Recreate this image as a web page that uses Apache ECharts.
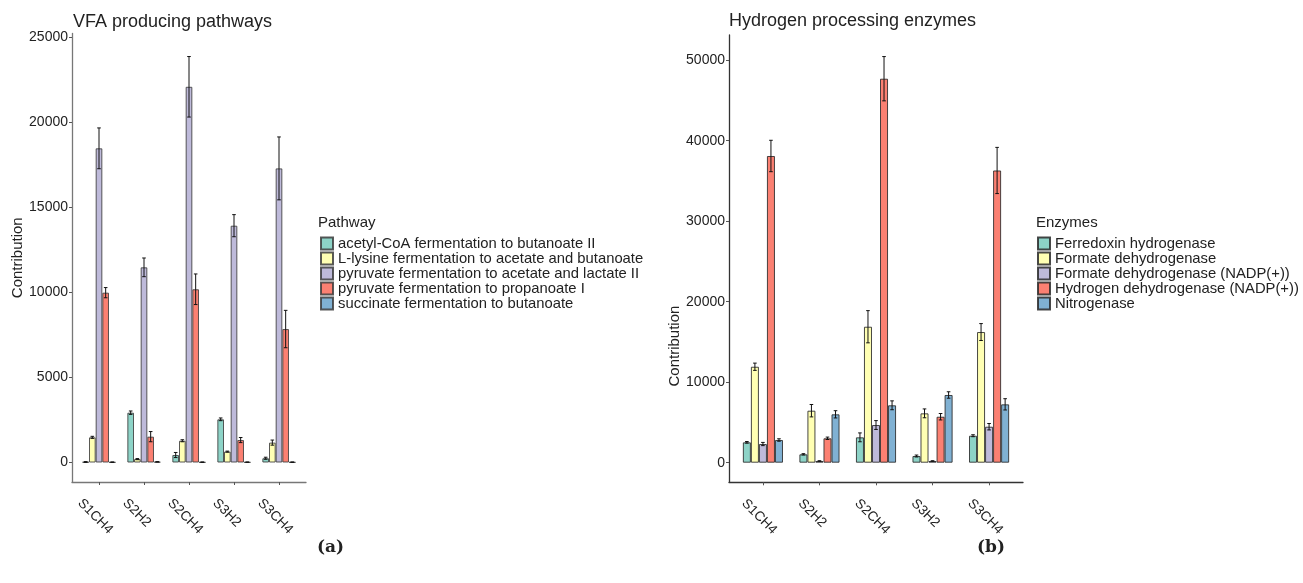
<!DOCTYPE html>
<html>
<head>
<meta charset="utf-8">
<title>VFA producing pathways / Hydrogen processing enzymes</title>
<script src="https://cdn.jsdelivr.net/npm/echarts@6/dist/echarts.min.js"></script>
<style>
  html, body { margin: 0; padding: 0; background: #ffffff; }
  #chart { width: 1303px; height: 583px; }
</style>
</head>
<body>
<div id="chart"></div>
<script>
// Sample groups shared by both panels
const categories = ['S1CH4', 'S2H2', 'S2CH4', 'S3H2', 'S3CH4'];
const yTicksVfa = [0, 5000, 10000, 15000, 20000, 25000];
const yTicksHyd = [0, 10000, 20000, 30000, 40000, 50000];

// Panel (a): VFA producing pathways (mean contribution and error)
const pathwayNames = [
  'acetyl-CoA fermentation to butanoate II',
  'L-lysine fermentation to acetate and butanoate',
  'pyruvate fermentation to acetate and lactate II',
  'pyruvate fermentation to propanoate I',
  'succinate fermentation to butanoate'
];
const acetylCoA = [30, 2930, 440, 2540, 250];
const acetylCoAErr = [20, 100, 150, 80, 60];
const lysine = [1480, 200, 1280, 640, 1170];
const lysineErr = [60, 30, 60, 30, 150];
const pyruvateLactate = [18480, 11480, 22100, 13930, 17300];
const pyruvateLactateErr = [1200, 550, 1780, 650, 1850];
const pyruvatePropanoate = [9990, 1520, 10190, 1320, 7850];
const pyruvatePropanoateErr = [300, 300, 900, 150, 1100];
const succinate = [20, 40, 20, 20, 20];
const succinateErr = [10, 10, 10, 10, 10];

// Panel (b): hydrogen processing enzymes
const enzymeNames = [
  'Ferredoxin hydrogenase',
  'Formate dehydrogenase',
  'Formate dehydrogenase (NADP(+))',
  'Hydrogen dehydrogenase (NADP(+))',
  'Nitrogenase'
];
const ferredoxin = [2530, 1040, 3150, 830, 3350];
const ferredoxinErr = [100, 80, 550, 120, 120];
const formate = [11920, 6460, 16890, 6130, 16230];
const formateErr = [450, 770, 2000, 550, 1050];
const formateNadp = [2320, 210, 4680, 210, 4470];
const formateNadpErr = [200, 30, 550, 30, 400];
const hydrogenNadp = [38100, 3030, 47700, 5710, 36300];
const hydrogenNadpErr = [1950, 150, 2750, 400, 2870];
const nitrogenase = [2820, 6010, 7130, 8410, 7250];
const nitrogenaseErr = [150, 450, 550, 400, 700];

const palette = ['#8DD3C7', '#FFFFB3', '#BEBADA', '#FB8072', '#80B1D3'];
const FONT = '"Liberation Sans", Arial, sans-serif';

const vfaValues = [acetylCoA, lysine, pyruvateLactate, pyruvatePropanoate, succinate];
const vfaErrors = [acetylCoAErr, lysineErr, pyruvateLactateErr, pyruvatePropanoateErr, succinateErr];
const hydValues = [ferredoxin, formate, formateNadp, hydrogenNadp, nitrogenase];
const hydErrors = [ferredoxinErr, formateErr, formateNadpErr, hydrogenNadpErr, nitrogenaseErr];

// fraction of each category band covered by a dodged group of bars
const VFA_FILL = 0.74;
const HYD_FILL = 0.71;

function barSeries(names, values, axisIndex, fill, borderColor) {
  return names.map((name, s) => ({
    name: name,
    type: 'bar',
    xAxisIndex: axisIndex,
    yAxisIndex: axisIndex,
    barGap: '0%',
    barCategoryGap: Math.round((1 - fill) * 100) + '%',
    itemStyle: { color: palette[s], borderColor: borderColor, borderWidth: 1 },
    emphasis: { disabled: true },
    data: values[s].map((v, i) => [i + 1, v])
  }));
}

// Error bars sit on the centre of each dodged bar
function errorSeries(values, errors, axisIndex, fill) {
  const n = values.length;
  const rows = [];
  values.forEach((arr, s) => arr.forEach((v, i) => rows.push([i + 1, s, v, errors[s][i]])));
  return {
    type: 'custom',
    xAxisIndex: axisIndex,
    yAxisIndex: axisIndex,
    z: 5,
    silent: true,
    encode: { x: 0, y: 2 },
    data: rows,
    renderItem: function (params, api) {
      const cat = api.value(0), s = api.value(1), v = api.value(2), e = api.value(3);
      const w = fill / n;
      const x = cat + (s - (n - 1) / 2) * w;
      const top = api.coord([x, v + e]);
      const bot = api.coord([x, v - e]);
      const cap = 1.8;
      const st = { stroke: '#111', lineWidth: 1 };
      return {
        type: 'group',
        children: [
          { type: 'line', shape: { x1: top[0], y1: top[1], x2: bot[0], y2: bot[1] }, style: st },
          { type: 'line', shape: { x1: top[0] - cap, y1: top[1], x2: top[0] + cap, y2: top[1] }, style: st },
          { type: 'line', shape: { x1: bot[0] - cap, y1: bot[1], x2: bot[0] + cap, y2: bot[1] }, style: st }
        ]
      };
    }
  };
}

function xAxisFor(gridIndex, lineColor) {
  return {
    type: 'value',
    gridIndex: gridIndex,
    min: 0.4,
    max: 5.6,
    splitLine: { show: false },
    axisLine: { show: true, onZero: false, lineStyle: { color: lineColor, width: 1.3 } },
    axisTick: { show: true, length: 3, customValues: [1, 2, 3, 4, 5], lineStyle: { color: '#555' } },
    axisLabel: {
      customValues: [1, 2, 3, 4, 5],
      formatter: v => categories[Math.round(v) - 1],
      rotate: -45,
      align: 'left',
      verticalAlign: 'top',
      padding: [20, 0, 0, 0],
      margin: 0,
      fontFamily: FONT,
      fontSize: 13.5,
      color: '#222'
    }
  };
}

function yAxisFor(gridIndex, min, max, ticks, lineColor, nameStyle) {
  return {
    type: 'value',
    gridIndex: gridIndex,
    min: min,
    max: max,
    name: 'Contribution',
    nameLocation: 'middle',
    nameGap: 41,
    nameTextStyle: Object.assign({ fontFamily: FONT, fontSize: 15, color: '#222' }, nameStyle || {}),
    splitLine: { show: false },
    axisLine: { show: true, onZero: false, lineStyle: { color: lineColor, width: 1.3 } },
    axisTick: { show: true, length: 3, customValues: ticks, lineStyle: { color: '#555' } },
    axisLabel: {
      customValues: ticks,
      formatter: v => String(Math.round(v)),
      margin: 4,
      fontFamily: FONT,
      fontSize: 14,
      color: '#222'
    }
  };
}

function legendFor(names, left, top) {
  return {
    data: names,
    orient: 'vertical',
    left: left,
    top: top,
    icon: 'rect',
    itemWidth: 12,
    itemHeight: 12,
    itemGap: 0,
    padding: 0,
    selectedMode: false,
    textStyle: { fontFamily: FONT, fontSize: 14.8, color: '#222', lineHeight: 13.3 }
  };
}

function textTitle(text, left, top, size, family, weight) {
  return {
    text: text,
    left: left,
    top: top,
    padding: 0,
    textStyle: { fontFamily: family || FONT, fontSize: size, fontWeight: weight || 'normal', color: '#222' }
  };
}

const SERIF = '"DejaVu Serif", "Liberation Serif", serif';
const chart = echarts.init(document.getElementById('chart'), null, { renderer: 'canvas' });

chart.setOption({
  backgroundColor: '#ffffff',
  animation: false,
  title: [
    textTitle('VFA producing pathways', 73, 13, 18),
    textTitle('Hydrogen processing enzymes', 729, 12, 18),
    textTitle('Pathway', 318, 215, 15),
    textTitle('Enzymes', 1036, 215, 15),
    textTitle('(a)', 317, 539, 17, SERIF, 'bold'),
    textTitle('(b)', 977, 539, 17, SERIF, 'bold')
  ],
  legend: [
    legendFor(pathwayNames, 320, 236),
    legendFor(enzymeNames, 1037, 236)
  ],
  grid: [
    { left: 72, top: 33.5, width: 234, height: 448.5 },
    { left: 729, top: 35, width: 294, height: 447.3 }
  ],
  xAxis: [xAxisFor(0, '#777'), xAxisFor(1, '#333')],
  yAxis: [
    yAxisFor(0, -1147, 25235, yTicksVfa, '#777'),
    yAxisFor(1, -2435, 53130, yTicksHyd, '#333', { align: 'right', padding: [0, 47, 0, 0] })
  ],
  series: [].concat(
    barSeries(pathwayNames, vfaValues, 0, VFA_FILL, 'rgba(60,60,60,0.85)'),
    [errorSeries(vfaValues, vfaErrors, 0, VFA_FILL)],
    barSeries(enzymeNames, hydValues, 1, HYD_FILL, 'rgba(40,40,40,0.85)'),
    [errorSeries(hydValues, hydErrors, 1, HYD_FILL)]
  )
});
</script>
</body>
</html>
